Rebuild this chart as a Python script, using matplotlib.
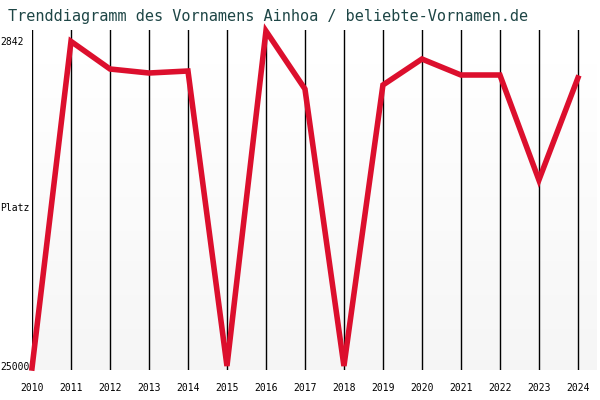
import matplotlib.pyplot as plt
import numpy as np

years = [2010, 2011, 2012, 2013, 2014, 2015, 2016, 2017, 2018, 2019, 2020, 2021, 2022, 2023, 2024]
ranks = [25000, 2800, 4677, 4949, 4813, 24864, 2094, 6037, 24864, 5765, 3998, 5085, 5085, 12222, 5289]
title = "Trenddiagramm des Vornamens Ainhoa / beliebte-Vornamen.de"

fig = plt.figure(figsize=(6, 4), dpi=100)
fig.patch.set_facecolor("white")
ax = fig.add_axes([32 / 600, 30 / 400, 565 / 600, 340 / 400])

# light vertical gradient background
grad = np.linspace(1.0, 0.96, 100).reshape(-1, 1)
ax.imshow(grad, extent=[2010, 2024.49, 25136, 2026], aspect="auto", cmap="gray",
          vmin=0, vmax=1, zorder=0)

for y in years:
    ax.axvline(y, color="black", lw=1, zorder=1)

ax.plot(years, ranks, color="#dc0f2d", lw=4, zorder=3, clip_on=False,
        solid_joinstyle="miter")

ax.set_xlim(2010, 2024.49)
ax.set_ylim(25136, 2026)
for s in ax.spines.values():
    s.set_visible(False)
ax.set_xticks([])
ax.set_yticks([])

mono = "DejaVu Sans Mono"
for y in years:
    fig.text((32 + (y - 2010) * 39) / 600, 1 - 388 / 400, str(y), ha="center",
             va="center", fontsize=7, family=mono)
fig.text(0, 1 - 42 / 400, "2842", ha="left", va="center", fontsize=7, family=mono)
fig.text(0, 1 - 208 / 400, "Platz", ha="left", va="center", fontsize=7, family=mono)
fig.text(0, 1 - 367 / 400, "25000", ha="left", va="center", fontsize=7, family=mono)
fig.text(8 / 600, 1 - 17 / 400, title, ha="left", va="center", fontsize=11,
         family=mono, color="#1e4646")

fig.savefig("out.png")
